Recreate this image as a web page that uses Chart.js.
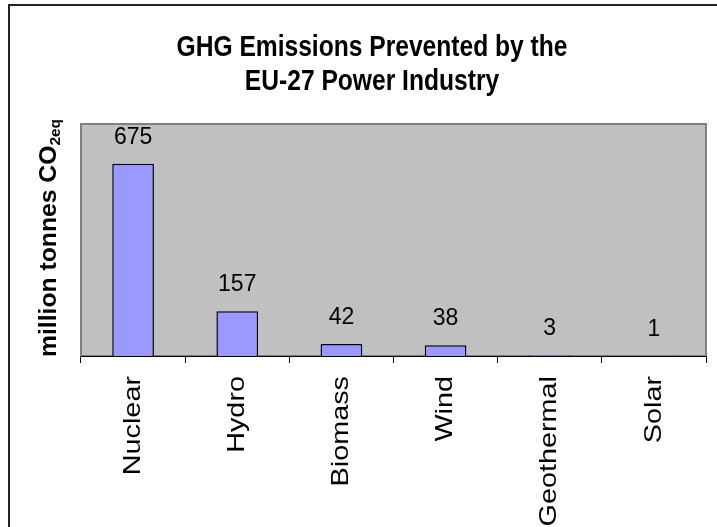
<!DOCTYPE html>
<html lang="en">
<head>
<meta charset="UTF-8">
<title>GHG Emissions Prevented by the EU-27 Power Industry</title>
<style>
  *{margin:0;padding:0;box-sizing:border-box;}
  body{background:#fff;overflow:hidden;}
  .chartbox{width:717px;height:527px;}
</style>
</head>
<body>
<div class="chartbox"><canvas id="myChart"></canvas></div>

<script src="https://cdn.jsdelivr.net/npm/chart.js"></script>
<script>
const categories = ['Nuclear', 'Hydro', 'Biomass', 'Wind', 'Geothermal', 'Solar'];
const emissions = [675, 157, 42, 38, 3, 1];
const titleLines = ['GHG Emissions Prevented by the', 'EU-27 Power Industry'];
const yTitleMain = 'million tonnes CO';
const yTitleSub = '2eq';

const FONT = "'Liberation Sans', Arial, sans-serif";

// frame, grey plot area, titles, category and value labels
const decor = {
	id: 'decor',
	beforeDraw(chart){
		const {ctx, chartArea: a} = chart;
		ctx.save();
		ctx.fillStyle = '#c0c0c0';
		ctx.fillRect(a.left, a.top, a.right - a.left, a.bottom - a.top);
		ctx.strokeStyle = '#808080';
		ctx.lineWidth = 2;
		ctx.strokeRect(a.left, a.top, a.right - a.left, a.bottom - a.top);
		// outer frame (right and bottom edges fall outside the picture)
		ctx.strokeStyle = '#222';
		ctx.lineWidth = 2;
		ctx.beginPath();
		ctx.moveTo(9, 527);
		ctx.lineTo(9, 5);
		ctx.lineTo(717, 5);
		ctx.stroke();
		ctx.restore();
	},
	afterDatasetsDraw(chart){
		const ctx = chart.ctx;
		const meta = chart.getDatasetMeta(0);
		ctx.save();
		ctx.fillStyle = '#000';
		ctx.font = `23px ${FONT}`;
		ctx.textAlign = 'center';
		ctx.textBaseline = 'alphabetic';
		meta.data.forEach((bar, i) => {
			ctx.fillText(String(emissions[i]), bar.x, bar.y - 20);
		});
		ctx.restore();
	},
	afterDraw(chart){
		const ctx = chart.ctx;
		const a = chart.chartArea;
		const xs = chart.scales.x;
		ctx.save();
		ctx.fillStyle = '#000';

		// category labels, rotated and a little stretched along their length
		ctx.font = `24px ${FONT}`;
		ctx.textAlign = 'right';
		ctx.textBaseline = 'middle';
		categories.forEach((c, i) => {
			ctx.save();
			ctx.translate(xs.getPixelForTick(i), a.bottom + 20);
			ctx.rotate(-Math.PI / 2);
			ctx.scale(1.2, 1);
			ctx.fillText(c, 0, 0);
			ctx.restore();
		});

		// chart title, narrow bold
		ctx.font = `bold 30px ${FONT}`;
		ctx.textAlign = 'center';
		ctx.textBaseline = 'alphabetic';
		const baselines = [56, 90];
		titleLines.forEach((t, i) => {
			ctx.save();
			ctx.translate(372, baselines[i]);
			ctx.scale(0.82, 1);
			ctx.fillText(t, 0, 0);
			ctx.restore();
		});

		// y axis title with subscript
		ctx.font = `bold 24px ${FONT}`;
		const w1 = ctx.measureText(yTitleMain).width;
		ctx.font = `bold 15px ${FONT}`;
		const w2 = ctx.measureText(yTitleSub).width;
		ctx.translate(56, (a.top + a.bottom) / 2 - 2);
		ctx.rotate(-Math.PI / 2);
		ctx.scale(1.03, 1);
		ctx.textAlign = 'left';
		const x0 = -(w1 + w2) / 2;
		ctx.font = `bold 24px ${FONT}`;
		ctx.fillText(yTitleMain, x0, 0);
		ctx.font = `bold 15px ${FONT}`;
		ctx.fillText(yTitleSub, x0 + w1, 4);
		ctx.restore();
	}
};

const data = {
	labels: categories,
	datasets: [{
		data: emissions,
		backgroundColor: '#9999ff',
		borderColor: '#000',
		borderWidth: 1.5,
		categoryPercentage: 1,
		barPercentage: 0.4
	}]
};

const config = {
	type: 'bar',
	data,
	options: {
		responsive: true,
		maintainAspectRatio: false,
		animation: false,
		layout: {padding: {left: 81, top: 124, right: 11, bottom: 0}},
		plugins: {
			legend: {display: false},
			title: {display: false},
			tooltip: {enabled: false}
		},
		scales: {
			x: {
				grid: {offset: true, drawOnChartArea: false, drawTicks: true, tickLength: 7, color: '#000', lineWidth: 1},
				border: {color: '#000', width: 1},
				ticks: {display: false, autoSkip: false},
				afterFit(scale){ scale.height = 171; }
			},
			y: {
				display: false,
				min: 0,
				max: 815
			}
		}
	},
	plugins: [decor]
};

const myChart = new Chart(document.getElementById('myChart'), config);
</script>
</body>
</html>
